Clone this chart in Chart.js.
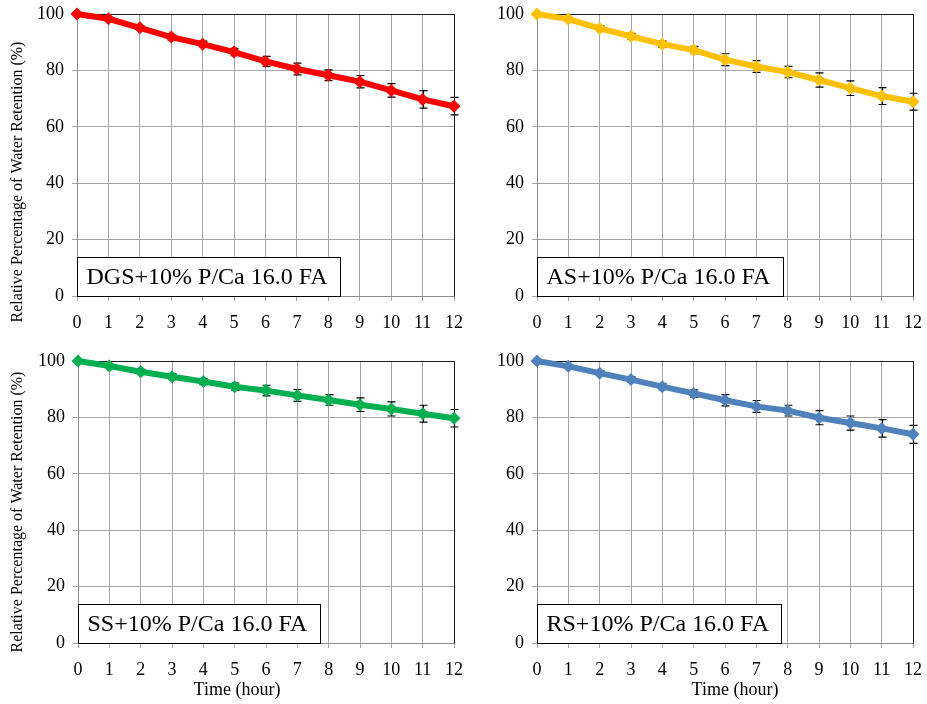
<!DOCTYPE html>
<html>
<head>
<meta charset="utf-8">
<script src="https://cdn.jsdelivr.net/npm/chart.js@4.4.0/dist/chart.umd.min.js"></script>
<style>
  html, body { margin: 0; padding: 0; background: #fff; }
  body { width: 927px; height: 704px; position: relative; overflow: hidden; }
  canvas { position: absolute; }
</style>
</head>
<body>
<canvas id="c-dgs" style="left:0;top:0" width="463" height="345"></canvas>
<canvas id="c-as" style="left:463px;top:0" width="464" height="345"></canvas>
<canvas id="c-ss" style="left:0;top:345px" width="463" height="359"></canvas>
<canvas id="c-rs" style="left:463px;top:345px" width="464" height="359"></canvas>
<script>
const hours  = ['0','1','2','3','4','5','6','7','8','9','10','11','12'];
const yTicks = [0, 20, 40, 60, 80, 100];

const dgsRet = [100, 98.3, 95.1, 91.8, 89.3, 86.5, 83.2, 80.5, 78.3, 76.0, 72.9, 69.7, 67.3];
const dgsErr = [0, 0.6, 0.8, 1.0, 1.1, 1.3, 1.8, 2.1, 1.9, 2.2, 2.4, 3.1, 3.1];
const asRet  = [100, 98.2, 94.9, 92.1, 89.3, 87.2, 83.8, 81.4, 79.4, 76.6, 73.7, 70.9, 68.9];
const asErr  = [0, 0.6, 0.8, 1.0, 1.1, 1.3, 2.1, 2.1, 2.0, 2.5, 2.6, 3.0, 3.0];
const ssRet  = [100, 98.2, 96.2, 94.4, 92.7, 90.9, 89.5, 87.8, 86.2, 84.5, 83.0, 81.3, 79.7];
const ssErr  = [0, 0.6, 0.8, 1.0, 1.1, 1.3, 1.9, 2.1, 1.9, 2.4, 2.5, 3.0, 3.1];
const rsRet  = [100, 98.1, 95.7, 93.4, 90.9, 88.5, 86.1, 83.9, 82.4, 79.9, 78.0, 76.1, 74.0];
const rsErr  = [0, 0.6, 0.8, 1.0, 1.1, 1.3, 2.0, 2.1, 1.9, 2.5, 2.5, 3.1, 3.2];

const Y_TITLE = 'Relative Percentage of Water Retention (%)';
const X_TITLE = 'Time (hour)';
const SERIF = '"Liberation Serif", "Times New Roman", serif';

const PANELS = [
  { id: 'c-dgs', label: 'DGS+10% P/Ca 16.0 FA', vals: dgsRet, err: dgsErr, color: '#FF0000',
    w: 463, h: 345, area: { l: 77, t: 14, r: 454, b: 296 }, yTitle: { x: 18, y: 182 }, xTitle: null },
  { id: 'c-as', label: 'AS+10% P/Ca 16.0 FA', vals: asRet, err: asErr, color: '#FFC000',
    w: 464, h: 345, area: { l: 74, t: 14, r: 450, b: 296 }, yTitle: null, xTitle: null },
  { id: 'c-ss', label: 'SS+10% P/Ca 16.0 FA', vals: ssRet, err: ssErr, color: '#00B050',
    w: 463, h: 359, area: { l: 78, t: 16, r: 454, b: 298 }, yTitle: { x: 18, y: 167 }, xTitle: { x: 237, y: 345 } },
  { id: 'c-rs', label: 'RS+10% P/Ca 16.0 FA', vals: rsRet, err: rsErr, color: '#4F81BD',
    w: 464, h: 359, area: { l: 74, t: 16, r: 450, b: 298 }, yTitle: null, xTitle: { x: 272, y: 345 } },
];

// frame, label box, error bars and titles
const deco = {
  id: 'deco',
  beforeDatasetsDraw(chart, args, o) {
    const { ctx, chartArea: a, scales: { x, y } } = chart;
    ctx.save();
    // top / right frame
    ctx.strokeStyle = '#1a1a1a';
    ctx.lineWidth = 1;
    ctx.beginPath();
    ctx.moveTo(Math.round(a.left) + 0.5, Math.round(a.top) + 0.5);
    ctx.lineTo(Math.round(a.right) + 0.5, Math.round(a.top) + 0.5);
    ctx.lineTo(Math.round(a.right) + 0.5, Math.round(a.bottom) + 0.5);
    ctx.stroke();

    // label box
    ctx.font = '24px ' + SERIF;
    const tw = ctx.measureText(o.label).width;
    const bx = Math.round(a.left) + 0.5, bh = 39;
    const by = Math.round(a.bottom) - bh + 0.5;
    const bw = Math.round(tw + 22);
    ctx.fillStyle = '#fff';
    ctx.fillRect(bx, by, bw, bh);
    ctx.strokeStyle = '#000';
    ctx.strokeRect(bx, by, bw, bh);
    ctx.fillStyle = '#000';
    ctx.textBaseline = 'middle';
    ctx.textAlign = 'left';
    ctx.fillText(o.label, bx + 9, by + bh / 2 + 1);

    // error bars
    ctx.strokeStyle = '#000';
    ctx.lineWidth = 1.2;
    o.vals.forEach((v, i) => {
      const e = o.err[i];
      if (!e) return;
      const px = Math.round(x.getPixelForValue(i)) + 0.5;
      const hi = y.getPixelForValue(v + e), lo = y.getPixelForValue(v - e);
      ctx.beginPath();
      ctx.moveTo(px, hi); ctx.lineTo(px, lo);
      ctx.moveTo(px - 4, hi); ctx.lineTo(px + 4, hi);
      ctx.moveTo(px - 4, lo); ctx.lineTo(px + 4, lo);
      ctx.stroke();
    });
    ctx.restore();
  },
  afterDraw(chart, args, o) {
    const { ctx } = chart;
    ctx.save();
    ctx.fillStyle = '#000';
    ctx.textAlign = 'center';
    ctx.textBaseline = 'middle';
    if (o.yTitle) {
      ctx.font = '16px ' + SERIF;
      ctx.translate(o.yTitle.x, o.yTitle.y);
      ctx.rotate(-Math.PI / 2);
      ctx.fillText(Y_TITLE, 0, 0);
      ctx.setTransform(1, 0, 0, 1, 0, 0);
    }
    if (o.xTitle) {
      ctx.font = '18px ' + SERIF;
      ctx.fillText(X_TITLE, o.xTitle.x, o.xTitle.y);
    }
    ctx.restore();
  }
};

PANELS.forEach(p => {
  new Chart(document.getElementById(p.id), {
    type: 'line',
    data: {
      labels: hours,
      datasets: [{
        data: p.vals,
        borderColor: p.color, backgroundColor: p.color,
        borderWidth: 6, tension: 0, clip: false,
        pointStyle: 'rectRot', pointRadius: 6.5, pointBorderWidth: 0,
        pointBackgroundColor: p.color,
      }],
    },
    options: {
      responsive: false, animation: false,
      layout: { autoPadding: false, padding: { left: 0, top: p.area.t, right: p.w - p.area.r, bottom: 0 } },
      plugins: {
        legend: { display: false }, tooltip: { enabled: false },
        deco: { label: p.label, vals: p.vals, err: p.err, yTitle: p.yTitle, xTitle: p.xTitle },
      },
      scales: {
        x: {
          afterFit: s => { s.height = p.h - p.area.b; s.paddingLeft = 0; s.paddingRight = 0; },
          grid: { color: '#a6a6a6', tickLength: 5 },
          border: { color: '#8c8c8c' },
          ticks: { color: '#000', font: { family: SERIF, size: 18 }, padding: 11, maxRotation: 0, autoSkip: false },
        },
        y: {
          min: 0, max: 100,
          afterFit: s => { s.width = p.area.l; s.paddingTop = 0; s.paddingBottom = 0; },
          afterBuildTicks: s => { s.ticks = yTicks.map(v => ({ value: v })); },
          grid: { color: '#a6a6a6', tickLength: 5 },
          border: { color: '#8c8c8c' },
          ticks: { color: '#000', font: { family: SERIF, size: 18 }, padding: 8 },
        },
      },
    },
    plugins: [deco],
  });
});
</script>
</body>
</html>
